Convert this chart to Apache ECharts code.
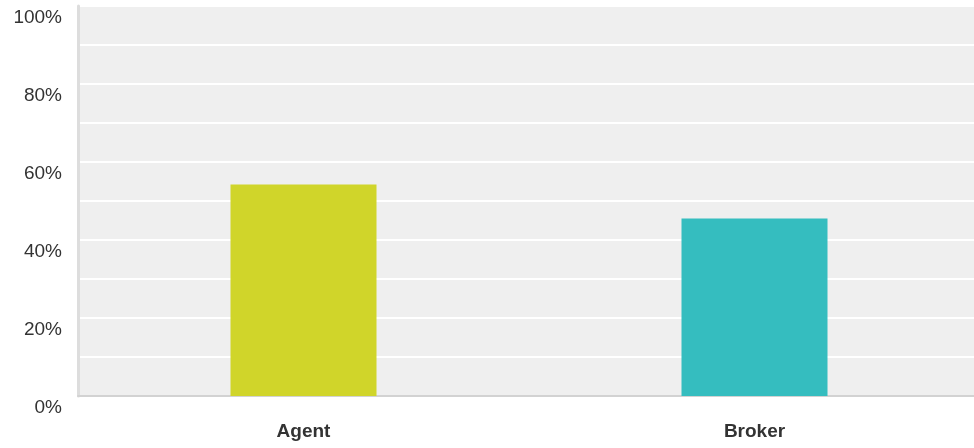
<!DOCTYPE html>
<html>
<head>
<meta charset="utf-8">
<script src="https://cdn.jsdelivr.net/npm/echarts@6/dist/echarts.min.js"></script>
<style>
  html, body { margin: 0; padding: 0; background: #fff; overflow: hidden; }
  #chart { width: 982px; height: 448px; }
</style>
</head>
<body>
<div id="chart"></div>
<script>
// answer shares, in percent
const categories = ['Agent', 'Broker']
const shares = [54.2, 45.5]
const barColors = ['#d0d52a', '#35bdbf']

const chart = echarts.init(document.getElementById('chart'))
const option = {
  animation: false,
  grid: {
    left: 78,
    top: 6,
    width: 902,
    height: 390,
    show: true,
    backgroundColor: '#efefef',
    borderWidth: 0
  },
  xAxis: {
    type: 'category',
    data: categories,
    axisTick: { show: false },
    axisLine: { lineStyle: { color: '#d2d2d2', width: 2 } },
    axisLabel: {
      margin: 26,
      fontFamily: 'Liberation Sans',
      fontSize: 19,
      fontWeight: 'bold',
      color: '#333'
    }
  },
  yAxis: {
    type: 'value',
    min: 0,
    max: 100,
    interval: 10,
    axisTick: { show: false },
    axisLine: { show: true, lineStyle: { color: '#dddddd', width: 3 } },
    splitLine: { lineStyle: { color: '#ffffff', width: 2 } },
    axisLabel: {
      margin: 16,
      fontFamily: 'Liberation Sans',
      fontSize: 19,
      color: '#333',
      verticalAlign: 'top',
      padding: [2, 0, 0, 0],
      formatter: v => (v % 20 === 0 ? v + '%' : '')
    }
  },
  series: [
    {
      type: 'bar',
      barWidth: 146,
      data: shares.map((v, i) => ({ value: v, itemStyle: { color: barColors[i] } }))
    }
  ]
}
chart.setOption(option)
</script>
</body>
</html>
